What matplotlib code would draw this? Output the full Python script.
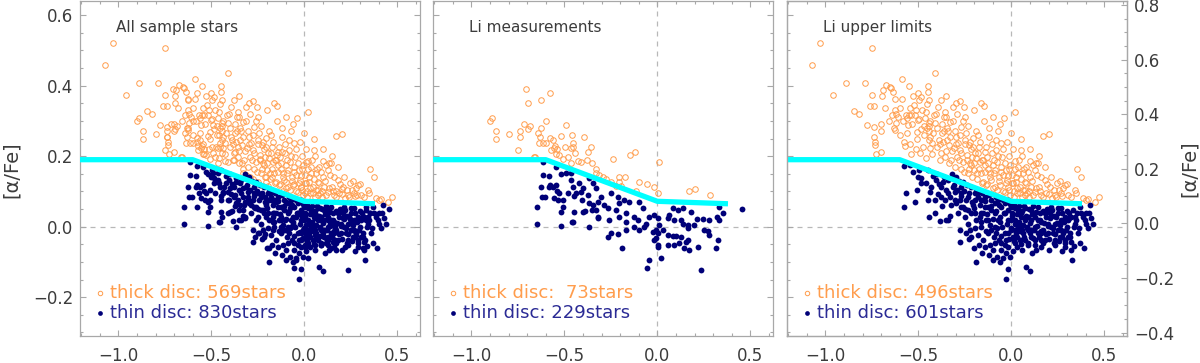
import numpy as np
import matplotlib.pyplot as plt
from matplotlib.ticker import MultipleLocator

# [Fe/H], [alpha/Fe]
# stars with Li measurements
li_thick = [
    (-0.706, 0.391), (-0.625, 0.359), (-0.577, 0.378), (-0.697, 0.350), (-0.898, 0.301),
    (-0.887, 0.309), (-0.869, 0.271), (-0.867, 0.248), (-0.799, 0.264), (-0.738, 0.270),
    (-0.738, 0.255), (-0.719, 0.291), (-0.697, 0.277), (-0.686, 0.286), (-0.749, 0.218),
    (-0.659, 0.199), (-0.640, 0.265), (-0.627, 0.280), (-0.631, 0.255), (-0.634, 0.236),
    (-0.616, 0.238), (-0.597, 0.300), (-0.599, 0.236), (-0.577, 0.251), (-0.572, 0.217),
    (-0.548, 0.229), (-0.539, 0.219), (-0.518, 0.257), (-0.545, 0.206), (-0.527, 0.203),
    (-0.509, 0.191), (-0.489, 0.287), (-0.459, 0.260), (-0.455, 0.238), (-0.464, 0.222),
    (-0.452, 0.225), (-0.441, 0.210), (-0.428, 0.187), (-0.410, 0.184), (-0.396, 0.255),
    (-0.378, 0.189), (-0.375, 0.213), (-0.358, 0.227), (-0.351, 0.182), (-0.328, 0.163),
    (-0.312, 0.147), (-0.290, 0.142), (-0.237, 0.191), (-0.204, 0.140), (-0.176, 0.140),
    (-0.206, 0.127), (-0.194, 0.116), (-0.147, 0.204), (-0.118, 0.212), (-0.099, 0.126),
    (-0.056, 0.120), (-0.018, 0.112), (0.004, 0.096), (0.011, 0.183), (0.172, 0.100),
    (0.201, 0.106), (0.283, 0.091), (-0.661, 0.199), (-0.480, 0.199), (-0.466, 0.182),
    (-0.495, 0.227), (-0.563, 0.246), (-0.554, 0.222), (-0.222, 0.116), (-0.115, 0.100),
    (-0.249, 0.128), (-0.330, 0.151), (-0.276, 0.134),
]
li_thin = [
    (-0.649, 0.055), (-0.649, 0.009), (-0.613, 0.183), (-0.616, 0.147), (-0.581, 0.144),
    (-0.625, 0.112), (-0.620, 0.085), (-0.602, 0.085), (-0.577, 0.118), (-0.545, 0.170),
    (-0.545, 0.118), (-0.541, 0.102), (-0.554, 0.080), (-0.530, 0.096), (-0.536, 0.076),
    (-0.518, 0.043), (-0.520, 0.002), (-0.509, 0.076), (-0.518, 0.149), (-0.491, 0.151),
    (-0.464, 0.151), (-0.482, 0.096), (-0.459, 0.014), (-0.446, 0.043), (-0.446, 0.087),
    (-0.464, 0.132), (-0.455, 0.113), (-0.419, 0.123), (-0.410, 0.099), (-0.405, 0.076),
    (-0.398, 0.109), (-0.387, 0.045), (-0.366, 0.137), (-0.348, 0.123), (-0.330, 0.109),
    (-0.366, 0.000), (-0.351, 0.047), (-0.348, 0.061), (-0.375, 0.090), (-0.366, 0.066),
    (-0.321, 0.071), (-0.303, 0.085), (-0.321, 0.028), (-0.285, 0.061), (-0.249, 0.095),
    (-0.213, 0.085), (-0.204, 0.066), (-0.177, 0.076), (-0.151, 0.071), (-0.097, 0.071),
    (-0.509, 0.057), (-0.401, 0.043), (-0.330, 0.047), (-0.267, 0.052), (-0.222, 0.047),
    (-0.168, 0.038), (-0.124, 0.028), (-0.079, 0.052), (-0.043, 0.028), (-0.321, 0.024),
    (-0.258, 0.019), (-0.204, 0.028), (-0.168, 0.014), (-0.106, 0.019), (-0.061, 0.009),
    (-0.016, 0.033), (-0.249, -0.017), (-0.213, -0.021), (-0.267, -0.030), (-0.168, -0.009),
    (-0.124, 0.000), (-0.097, -0.009), (-0.070, 0.000), (-0.025, -0.014), (-0.007, -0.033),
    (-0.190, -0.061), (-0.043, -0.095), (-0.057, -0.118), (-0.455, 0.014), (-0.437, 0.095),
    (-0.563, 0.113), (-0.581, 0.113), (0.333, 0.057), (0.453, 0.050), (0.351, 0.038),
    (0.321, 0.028), (0.333, 0.019), (0.280, 0.019), (0.244, 0.021), (0.213, 0.023),
    (0.181, 0.043), (0.136, 0.052), (0.109, 0.047), (0.082, 0.052), (0.065, 0.033),
    (0.056, 0.024), (0.091, 0.019), (0.127, 0.019), (0.136, 0.009), (0.163, 0.005),
    (0.199, 0.005), (0.002, 0.024), (0.011, 0.005), (-0.007, -0.009), (0.002, -0.019),
    (0.029, -0.009), (0.056, -0.024), (0.082, -0.026), (0.100, -0.026), (0.127, -0.028),
    (0.163, -0.005), (0.253, -0.009), (0.271, -0.011), (0.280, -0.024), (0.324, -0.038),
    (0.315, -0.061), (0.020, -0.090), (0.235, -0.123), (0.056, -0.052), (0.091, -0.052),
    (0.118, -0.047), (0.154, -0.043), (0.172, -0.066), (0.005, -0.052), (-0.016, -0.038),
    (0.163, -0.038), (0.217, -0.057), (0.145, -0.061), (0.002, -0.059),
]

# stars with Li upper limits
ul_thick = [
    (-1.070, 0.459), (-1.029, 0.520), (-0.957, 0.373), (-0.889, 0.407), (-0.848, 0.329),
    (-0.819, 0.319), (-0.789, 0.407), (-0.778, 0.287), (-0.762, 0.342), (-0.751, 0.374),
    (-0.740, 0.342), (-0.737, 0.255), (-0.735, 0.241), (-0.735, 0.232), (-0.738, 0.284),
    (-0.747, 0.508), (-0.729, 0.205), (-0.699, 0.213), (-0.699, 0.270), (-0.695, 0.371),
    (-0.690, 0.388), (-0.679, 0.336), (-0.672, 0.403), (-0.654, 0.395), (-0.647, 0.392),
    (-0.642, 0.317), (-0.636, 0.383), (-0.627, 0.361), (-0.627, 0.331), (-0.631, 0.279),
    (-0.624, 0.274), (-0.618, 0.293), (-0.609, 0.312), (-0.600, 0.336), (-0.590, 0.419),
    (-0.586, 0.361), (-0.579, 0.241), (-0.570, 0.229), (-0.565, 0.317), (-0.561, 0.307),
    (-0.556, 0.288), (-0.550, 0.317), (-0.547, 0.336), (-0.538, 0.317), (-0.541, 0.206),
    (-0.529, 0.372), (-0.520, 0.317), (-0.511, 0.331), (-0.507, 0.268), (-0.502, 0.303),
    (-0.496, 0.359), (-0.487, 0.369), (-0.484, 0.276), (-0.475, 0.227), (-0.471, 0.286),
    (-0.462, 0.307), (-0.457, 0.324), (-0.452, 0.347), (-0.450, 0.382), (-0.444, 0.293),
    (-0.441, 0.286), (-0.444, 0.270), (-0.443, 0.246), (-0.439, 0.222), (-0.435, 0.253),
    (-0.427, 0.236), (-0.416, 0.317), (-0.409, 0.437), (-0.403, 0.320), (-0.398, 0.279),
    (-0.391, 0.246), (-0.385, 0.235), (-0.380, 0.359), (-0.376, 0.208), (-0.371, 0.265),
    (-0.364, 0.271), (-0.355, 0.199), (-0.358, 0.326), (-0.349, 0.312), (-0.344, 0.246),
    (-0.341, 0.270), (-0.337, 0.232), (-0.332, 0.298), (-0.323, 0.189), (-0.314, 0.340),
    (-0.308, 0.222), (-0.305, 0.270), (-0.296, 0.253), (-0.290, 0.197), (-0.285, 0.238),
    (-0.278, 0.357), (-0.276, 0.217), (-0.272, 0.284), (-0.269, 0.165), (-0.260, 0.184),
    (-0.254, 0.340), (-0.251, 0.235), (-0.242, 0.265), (-0.237, 0.203), (-0.233, 0.151),
    (-0.228, 0.232), (-0.224, 0.180), (-0.219, 0.219), (-0.215, 0.175), (-0.210, 0.199),
    (-0.206, 0.251), (-0.201, 0.161), (-0.197, 0.208), (-0.192, 0.194), (-0.186, 0.151),
    (-0.181, 0.260), (-0.176, 0.227), (-0.170, 0.184), (-0.165, 0.151), (-0.161, 0.350),
    (-0.158, 0.189), (-0.152, 0.128), (-0.147, 0.342), (-0.143, 0.213), (-0.140, 0.175),
    (-0.134, 0.118), (-0.129, 0.199), (-0.125, 0.165), (-0.118, 0.255), (-0.115, 0.151),
    (-0.108, 0.132), (-0.104, 0.208), (-0.099, 0.175), (-0.093, 0.151), (-0.090, 0.113),
    (-0.084, 0.217), (-0.079, 0.184), (-0.072, 0.270), (-0.068, 0.142), (-0.063, 0.118),
    (-0.057, 0.170), (-0.054, 0.236), (-0.050, 0.199), (-0.045, 0.147), (-0.039, 0.307),
    (-0.036, 0.099), (-0.030, 0.161), (-0.023, 0.132), (-0.018, 0.113), (-0.013, 0.165),
    (-0.009, 0.090), (-0.004, 0.265), (0.002, 0.147), (0.007, 0.123), (0.014, 0.085),
    (0.018, 0.326), (0.022, 0.165), (0.025, 0.128), (0.030, 0.095), (0.036, 0.151),
    (0.041, 0.189), (0.047, 0.113), (0.054, 0.217), (0.059, 0.085), (0.065, 0.151),
    (0.072, 0.104), (0.075, 0.128), (0.081, 0.170), (0.086, 0.095), (0.093, 0.085),
    (0.099, 0.142), (0.108, 0.113), (0.116, 0.175), (0.125, 0.099), (0.131, 0.180),
    (0.140, 0.147), (0.147, 0.113), (0.161, 0.090), (0.170, 0.257), (0.179, 0.132),
    (0.188, 0.095), (0.201, 0.262), (0.206, 0.113), (0.219, 0.080), (0.233, 0.090),
    (0.247, 0.123), (0.254, 0.104), (0.265, 0.095), (0.278, 0.109), (0.290, 0.118),
    (0.305, 0.090), (0.341, 0.104), (0.353, 0.165), (0.373, 0.140), (0.403, 0.076),
    (0.448, 0.071), (0.471, 0.083), (0.412, 0.078), (0.385, 0.080),
    # denser part of the thick-disc cloud
    (-0.560, 0.265), (-0.545, 0.235), (-0.535, 0.290), (-0.525, 0.345), (-0.515, 0.220),
    (-0.505, 0.250), (-0.495, 0.305), (-0.490, 0.210), (-0.480, 0.330), (-0.470, 0.260),
    (-0.460, 0.195), (-0.455, 0.280), (-0.445, 0.360), (-0.435, 0.300), (-0.425, 0.205),
    (-0.420, 0.265), (-0.410, 0.295), (-0.400, 0.225), (-0.395, 0.340), (-0.385, 0.190),
    (-0.375, 0.290), (-0.368, 0.240), (-0.360, 0.310), (-0.352, 0.215), (-0.345, 0.280),
    (-0.335, 0.180), (-0.328, 0.255), (-0.320, 0.215), (-0.315, 0.300), (-0.305, 0.170),
    (-0.298, 0.235), (-0.290, 0.320), (-0.283, 0.190), (-0.275, 0.260), (-0.268, 0.210),
    (-0.262, 0.300), (-0.255, 0.155), (-0.247, 0.245), (-0.240, 0.190), (-0.232, 0.285),
    (-0.226, 0.165), (-0.220, 0.240), (-0.213, 0.140), (-0.205, 0.225), (-0.198, 0.180),
    (-0.190, 0.270), (-0.184, 0.135), (-0.178, 0.210), (-0.172, 0.165), (-0.166, 0.240),
    (-0.160, 0.125), (-0.154, 0.190), (-0.148, 0.300), (-0.142, 0.155), (-0.136, 0.225),
    (-0.130, 0.120), (-0.124, 0.180), (-0.120, 0.280), (-0.112, 0.140), (-0.106, 0.235),
    (-0.100, 0.110), (-0.095, 0.190), (-0.088, 0.160), (-0.082, 0.245), (-0.076, 0.105),
    (-0.070, 0.200), (-0.065, 0.130), (-0.060, 0.290), (-0.053, 0.155), (-0.047, 0.220),
    (-0.042, 0.100), (-0.035, 0.180), (-0.030, 0.125), (-0.025, 0.240), (-0.020, 0.145),
    (-0.015, 0.200), (-0.010, 0.105), (-0.005, 0.175), (0.003, 0.125), (0.010, 0.220),
    (0.015, 0.100), (0.020, 0.185), (0.027, 0.140), (0.033, 0.110), (0.038, 0.170),
    (0.045, 0.095), (0.050, 0.135), (0.057, 0.200), (0.062, 0.105), (0.068, 0.165),
    (0.075, 0.090), (0.080, 0.125), (0.088, 0.155), (0.095, 0.100), (0.102, 0.185),
    (0.110, 0.130), (0.118, 0.090), (0.125, 0.160), (0.135, 0.110), (0.142, 0.180),
    (0.152, 0.100), (0.160, 0.140), (0.170, 0.085), (0.180, 0.170), (0.190, 0.120),
    (0.200, 0.092), (0.215, 0.140), (0.228, 0.105), (0.240, 0.085), (0.260, 0.130),
    (0.272, 0.088), (0.300, 0.120), (0.320, 0.085), (0.350, 0.095), (-0.600, 0.260),
    (-0.620, 0.320), (-0.580, 0.300), (-0.660, 0.300), (-0.700, 0.290), (-0.500, 0.380),
    (-0.450, 0.400), (-0.550, 0.400), (-0.350, 0.370), (-0.300, 0.350), (-0.200, 0.330),
    (-0.100, 0.310), (-0.250, 0.310), (0.050, 0.250), (0.100, 0.220), (0.150, 0.200),
]
ul_thin = [
    (-0.577, 0.173), (-0.568, 0.095), (-0.577, 0.057), (-0.547, 0.175), (-0.520, 0.071),
    (-0.507, 0.104), (-0.498, 0.161), (-0.484, 0.137), (-0.484, 0.123), (-0.448, 0.076),
    (-0.444, 0.028), (-0.439, 0.099), (-0.430, 0.113), (-0.412, 0.040), (-0.403, 0.132),
    (-0.394, 0.093), (-0.384, 0.017), (-0.376, 0.113), (-0.367, 0.128), (-0.358, 0.076),
    (-0.349, 0.019), (-0.341, 0.019), (-0.332, 0.085), (-0.323, 0.061), (-0.314, 0.113),
    (-0.305, 0.099), (-0.296, 0.066), (-0.287, 0.038), (-0.278, -0.044), (-0.278, 0.076),
    (-0.269, 0.095), (-0.260, 0.057), (-0.251, 0.028), (-0.242, 0.076), (-0.233, 0.009),
    (-0.224, -0.009), (-0.215, 0.038), (-0.206, 0.061), (-0.197, 0.076), (-0.194, -0.005),
    (-0.188, -0.099), (-0.179, -0.024), (-0.170, 0.028), (-0.161, 0.000), (-0.152, -0.038),
    (-0.143, 0.057), (-0.134, 0.019), (-0.125, -0.019), (-0.116, -0.052), (-0.108, -0.009),
    (-0.099, -0.066), (-0.090, 0.038), (-0.081, -0.019), (-0.075, -0.085), (-0.068, -0.038),
    (-0.063, 0.028), (-0.054, -0.047), (-0.050, 0.000), (-0.045, -0.090), (-0.036, -0.019),
    (-0.030, -0.038), (-0.027, -0.147), (-0.018, 0.019), (-0.009, -0.085), (-0.004, -0.009),
    (0.004, 0.038), (0.009, -0.028), (0.018, 0.019), (0.022, 0.052), (0.027, -0.019),
    (0.032, -0.057), (0.036, 0.000), (0.045, -0.038), (0.050, 0.028), (0.054, 0.038),
    (0.059, -0.009), (0.063, -0.019), (0.072, 0.019), (0.075, -0.038), (0.081, -0.113),
    (0.086, 0.000), (0.090, 0.028), (0.099, -0.019), (0.104, 0.047), (0.108, -0.009),
    (0.116, -0.033), (0.125, 0.028), (0.129, 0.000), (0.134, -0.066), (0.143, -0.019),
    (0.152, 0.038), (0.158, -0.038), (0.161, 0.014), (0.170, -0.009), (0.179, -0.038),
    (0.188, 0.028), (0.197, -0.019), (0.206, 0.038), (0.215, 0.000), (0.224, -0.019),
    (0.229, -0.047), (0.237, -0.038), (0.242, 0.028), (0.251, -0.009), (0.260, -0.028),
    (0.265, 0.052), (0.269, 0.019), (0.278, -0.019), (0.287, -0.047), (0.296, -0.009),
    (0.305, 0.019), (0.308, 0.038), (0.314, -0.019), (0.323, -0.043), (0.328, -0.095),
    (0.337, 0.000), (0.341, 0.028), (0.349, 0.019), (0.358, -0.019), (0.367, -0.047),
    (0.376, 0.038), (0.385, 0.028), (0.394, 0.019), (0.403, 0.009), (0.421, 0.061),
    (0.439, 0.009), (0.403, 0.038), (-0.018, 0.076), (-0.054, 0.057), (-0.090, 0.066),
    (-0.125, 0.057), (-0.161, 0.076), (-0.197, 0.095), (-0.233, 0.085), (-0.269, 0.113),
    (-0.108, 0.047), (-0.072, 0.019), (-0.036, 0.038), (0.000, 0.019), (0.036, 0.047),
    (0.072, 0.052), (0.108, 0.019), (0.143, 0.019), (0.179, 0.038), (0.215, 0.057),
    (0.251, 0.038), (0.287, 0.028), (0.323, 0.028), (0.018, -0.009), (0.054, 0.000),
    (0.090, -0.009), (0.125, -0.038), (0.161, -0.019), (0.197, 0.009), (0.233, 0.009),
    (0.269, -0.009), (0.305, -0.028), (-0.018, -0.019), (-0.090, 0.000), (-0.125, 0.019),
    (-0.161, 0.038), (-0.197, 0.038), (-0.233, 0.047), (-0.269, 0.057), (-0.305, 0.076),
    (-0.341, 0.095), (-0.376, 0.085), (-0.412, 0.076), (-0.341, 0.132), (-0.296, 0.142),
    (-0.260, 0.128), (-0.215, 0.113), (-0.179, 0.099), (-0.143, 0.085), (-0.108, 0.076),
    (-0.072, 0.076), (-0.036, 0.066), (0.000, 0.057), (-0.278, -0.009), (-0.242, -0.019),
    (-0.215, -0.028), (-0.176, -0.052), (-0.143, -0.057), (-0.090, -0.047), (-0.054, -0.066),
    (-0.018, -0.057), (0.018, -0.047), (0.090, -0.052), (0.161, -0.057), (0.233, -0.052),
    (0.287, -0.038),
    # densest part of the thin-disc clump
    (-0.310, 0.118), (-0.290, 0.104), (-0.270, 0.088), (-0.255, 0.102), (-0.240, 0.119),
    (-0.225, 0.095), (-0.210, 0.071), (-0.200, 0.052), (-0.190, 0.108), (-0.180, 0.083),
    (-0.170, 0.062), (-0.165, 0.012), (-0.155, 0.095), (-0.150, 0.040), (-0.140, 0.072),
    (-0.135, -0.012), (-0.130, 0.036), (-0.120, 0.090), (-0.115, 0.005), (-0.110, 0.058),
    (-0.100, 0.022), (-0.095, -0.030), (-0.085, 0.085), (-0.080, 0.045), (-0.075, -0.005),
    (-0.065, 0.062), (-0.060, 0.012), (-0.055, -0.025), (-0.045, 0.075), (-0.040, 0.040),
    (-0.035, -0.052), (-0.025, 0.008), (-0.020, 0.048), (-0.015, -0.035), (-0.005, 0.065),
    (0.000, -0.005), (0.005, 0.030), (0.012, -0.040), (0.015, 0.062), (0.020, 0.008),
    (0.028, 0.035), (0.033, -0.030), (0.040, 0.058), (0.042, 0.012), (0.048, -0.012),
    (0.052, -0.050), (0.058, 0.045), (0.062, 0.005), (0.068, -0.028), (0.070, 0.060),
    (0.078, 0.030), (0.082, -0.003), (0.088, -0.045), (0.094, 0.050), (0.100, 0.010),
    (0.105, -0.030), (0.110, 0.035), (0.115, 0.058), (0.120, -0.010), (0.128, -0.052),
    (0.132, 0.042), (0.138, 0.002), (0.145, 0.055), (0.148, -0.030), (0.155, 0.020),
    (0.160, -0.012), (0.168, 0.045), (0.172, -0.045), (0.176, 0.010), (0.185, -0.020),
    (0.190, 0.050), (0.195, 0.002), (0.203, -0.035), (0.210, 0.025), (0.218, 0.048),
    (0.222, -0.005), (0.230, 0.030), (0.236, -0.022), (0.245, 0.010), (0.250, 0.052),
    (0.258, -0.040), (0.262, 0.005), (0.270, 0.040), (0.275, -0.030), (0.283, 0.012),
    (0.290, -0.058), (0.298, 0.045), (0.302, 0.000), (0.310, 0.025), (0.318, -0.030),
    (0.330, 0.048), (0.335, -0.055), (0.345, 0.008), (0.355, 0.040), (0.365, -0.005),
    (0.370, 0.055), (-0.330, 0.030), (-0.350, 0.105), (-0.370, 0.060), (-0.390, 0.122),
    (-0.420, 0.145), (-0.460, 0.125), (-0.500, 0.140), (-0.530, 0.155), (-0.450, 0.160),
    (-0.400, 0.150), (-0.360, 0.140), (-0.320, 0.148), (-0.280, 0.130), (-0.250, 0.050),
    (-0.230, -0.035), (-0.190, 0.020), (-0.200, -0.060), (-0.160, -0.075), (-0.120, -0.080),
    (-0.100, -0.095), (-0.060, -0.100), (-0.030, -0.075), (0.010, -0.070), (0.060, -0.065),
    (0.110, -0.075), (0.200, -0.065), (0.270, -0.070), (0.320, -0.065), (0.390, -0.060),
    (0.100, -0.125), (-0.020, -0.120), (0.420, 0.040), (0.410, -0.005), (0.430, 0.025),
]

# thick/thin separation line
cut_feh = [-1.3, -0.6, 0.0, 0.38]
cut_afe = [0.19, 0.19, 0.072, 0.065]

titles = ['All sample stars', 'Li measurements', 'Li upper limits']
n_thick = [569, 73, 496]
n_thin = [830, 229, 601]

orange = '#ff9d4d'
navy = '#000078'
gray_txt = '#3c3c3c'
gray_ax = '#a8a8a8'

li_thick = np.array(li_thick)
li_thin = np.array(li_thin)
ul_thick = np.array(ul_thick)
ul_thin = np.array(ul_thin)
all_thick = np.vstack([li_thick, ul_thick])
all_thin = np.vstack([li_thin, ul_thin])
sets = [(all_thick, all_thin), (li_thick, li_thin), (ul_thick, ul_thin)]

fig = plt.figure(figsize=(12, 3.63), dpi=100)
lefts = [80 / 1200, 433 / 1200, 787 / 1200]
bottom = 27 / 363
height = 335 / 363

def style_axis(ax, side_labels):
    for s in ax.spines.values():
        s.set_color(gray_ax)
        s.set_linewidth(0.9)
    ax.tick_params(which='both', direction='in', color=gray_ax, labelcolor=gray_txt,
                   labelsize=12, top=True, right=True, width=0.8)
    ax.tick_params(which='major', length=4.5)
    ax.tick_params(which='minor', length=2.5)
    ax.tick_params(axis='x', pad=8)
    ax.tick_params(axis='y', pad=5, labelleft=side_labels)

for i, (thick, thin) in enumerate(sets):
    ax = fig.add_axes([lefts[i], bottom, 340 / 1200, height])
    ax.axvline(0, color='#b8b8b8', lw=0.9, dashes=(4, 4), zorder=0)
    ax.axhline(0, color='#b8b8b8', lw=0.9, dashes=(4, 4), zorder=0)
    ax.plot(thick[:, 0], thick[:, 1], 'o', ls='none', mfc='none', mec=orange, ms=4.0, mew=0.7, zorder=2)
    ax.plot(thin[:, 0], thin[:, 1], 'o', ls='none', color=navy, ms=4.2, mew=0, zorder=3)
    ax.plot(cut_feh, cut_afe, color='#00ffff', lw=3.8, solid_capstyle='butt', zorder=5)

    ax.text(-1.015, 0.564, titles[i], color=gray_txt, fontsize=11, ha='left', va='center')
    ax.plot([-1.098], [-0.187], 'o', mfc='none', mec=orange, ms=3.2, mew=0.7)
    ax.text(-1.045, -0.187, f'thick disc: {n_thick[i]:3d}stars', color=orange, fontsize=13,
            ha='left', va='center')
    ax.plot([-1.098], [-0.246], 'o', color=navy, ms=3.4, mew=0)
    ax.text(-1.045, -0.246, f'thin disc: {n_thin[i]:3d}stars', color='#2b2b95', fontsize=13,
            ha='left', va='center')

    ax.set_xlim(-1.206, 0.622)
    ax.set_ylim(-0.31, 0.64)
    ax.xaxis.set_major_locator(MultipleLocator(0.5))
    ax.xaxis.set_minor_locator(MultipleLocator(0.1))
    ax.yaxis.set_major_locator(MultipleLocator(0.2))
    ax.yaxis.set_minor_locator(MultipleLocator(0.05))
    style_axis(ax, i == 0)
    if i == 2:
        ax.tick_params(which='both', right=False)
        ax2 = ax.twinx()
        ax2.set_ylim(-0.4125, 0.815)
        ax2.yaxis.set_major_locator(MultipleLocator(0.2))
        ax2.yaxis.set_minor_locator(MultipleLocator(0.05))
        for s in ax2.spines.values():
            s.set_color(gray_ax)
            s.set_linewidth(0.9)
        ax2.tick_params(which='both', direction='in', color=gray_ax, labelcolor=gray_txt,
                        labelsize=12, width=0.8, pad=5)
        ax2.tick_params(which='major', length=4.5)
        ax2.tick_params(which='minor', length=2.5)

fig.text(11 / 1200, 1 - 170 / 363, '[α/Fe]', rotation=90, ha='center', va='center',
         fontsize=14, color=gray_txt)
fig.text(1189 / 1200, 1 - 169 / 363, '[α/Fe]', rotation=90, ha='center', va='center',
         fontsize=14, color=gray_txt)

fig.savefig('out.png', dpi=100)
